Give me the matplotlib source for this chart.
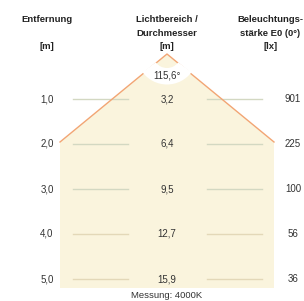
import numpy as np
import matplotlib
matplotlib.use("Agg")
import matplotlib.pyplot as plt
from matplotlib.patches import Polygon, Wedge

plt.rcParams['font.family'] = ['Liberation Sans', 'DejaVu Sans']

# ---- data ----
distances = [1.0, 2.0, 3.0, 4.0, 5.0]
dist_labels = ["1,0", "2,0", "3,0", "4,0", "5,0"]
diameters = ["3,2", "6,4", "9,5", "12,7", "15,9"]
lux = ["901", "225", "100", "56", "36"]
beam_angle = "115,6°"
header_left = ["Entfernung", "", "[m]"]
header_mid = ["Lichtbereich /", "Durchmesser", "[m]"]
header_right = ["Beleuchtungs-", "stärke E0 (0°)", "[lx]"]
footer = "Messung: 4000K"

# ---- layout (pixel space) ----
W, H = 304, 301
fig = plt.figure(figsize=(W / 100, H / 100), dpi=100)
ax = fig.add_axes([0, 0, 1, 1])
ax.set_xlim(0, W)
ax.set_ylim(H, 0)
ax.axis('off')

row_y0, row_step = 99, 45
def row_y(d):
    return row_y0 + (d - distances[0]) * row_step

xc, xl, xr = 167, 47, 293
apex = (167, 54)
cone_left, cone_right = 60, 274
cone_end_y = row_y(2.0) - 2
bottom_y = 288

fill_col = '#faf4dd'
orange = '#f2a574'

poly = Polygon([apex, (cone_left, cone_end_y), (cone_left, bottom_y),
                (cone_right, bottom_y), (cone_right, cone_end_y)],
               closed=True, facecolor=fill_col, edgecolor='none', zorder=1)
ax.add_patch(poly)

ax.plot([cone_left, apex[0], cone_right], [cone_end_y, apex[1], cone_end_y],
        color=orange, lw=1.0, zorder=3)

# white ring around apex for angle label
dx = cone_right - apex[0]
dy = cone_end_y - apex[1]
ang = np.degrees(np.arctan2(dy, dx))
ring = Wedge(apex, 30.5, ang - 3, 180 - ang + 3, width=16.5,
             facecolor='white', edgecolor='none', zorder=4)
ax.add_patch(ring)

line_cols = ['#d3d8c2', '#d3d8c2', '#d3d8c2', '#e3d8b8', '#e3d8b8']
for d, c in zip(distances, line_cols):
    y = row_y(d)
    ax.plot([73, 128], [y, y], color=c, lw=1.0, zorder=2)
    ax.plot([207, 262], [y, y], color=c, lw=1.0, zorder=2)

tc = '#333333'
fs = 7.0
for d, dl, dm, lx in zip(distances, dist_labels, diameters, lux):
    y = row_y(d)
    ax.text(xl, y, dl, ha='center', va='center', fontsize=fs, color=tc, zorder=5)
    ax.text(xc, y, dm, ha='center', va='center', fontsize=fs, color=tc, zorder=5)
    ax.text(xr, y, lx, ha='center', va='center', fontsize=fs, color=tc, zorder=5)

ax.text(xc, 76, beam_angle, ha='center', va='center', fontsize=fs, color=tc, zorder=5)

hfs = 6.8
header_y = [19.5, 33, 46.5]
for x, lines in [(xl, header_left), (xc, header_mid), (270.5, header_right)]:
    for y, t in zip(header_y, lines):
        if t:
            ax.text(x, y, t, ha='center', va='center', fontsize=hfs,
                    fontweight='bold', color='#222222')

ax.text(xc, 295, footer, ha='center', va='center', fontsize=6.8, color=tc)

fig.savefig('out.png', dpi=100, facecolor='white')
